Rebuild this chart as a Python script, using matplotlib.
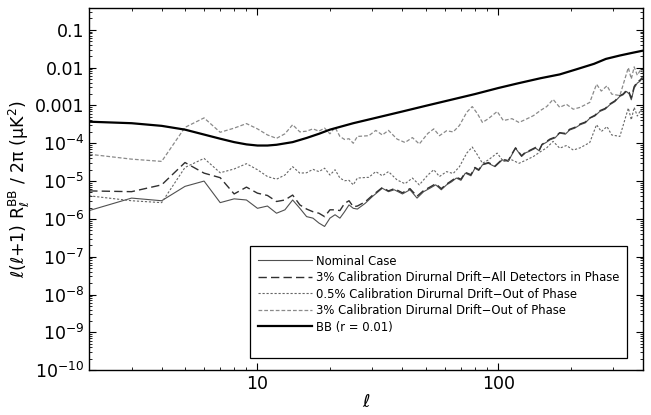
import numpy as np
import matplotlib
matplotlib.use("Agg")
import matplotlib.pyplot as plt
from matplotlib.ticker import LogLocator, FixedLocator, FuncFormatter, NullFormatter

plt.rcParams["mathtext.fontset"] = "dejavusans"
plt.rcParams["mathtext.default"] = "regular"

# log10 of l(l+1) R_l / 2pi in uK^2, read per multipole

# BB signal, r = 0.01
ell_bb = [2, 3, 4, 5, 6, 7, 8, 9, 10, 11, 12, 14, 16, 18, 20, 25, 30, 40, 50,
          60, 80, 100, 120, 150, 180, 210, 250, 280, 320, 360, 400]
log_bb = [-3.43, -3.47, -3.54, -3.64, -3.77, -3.88, -3.97, -4.03, -4.06, -4.06,
          -4.04, -3.97, -3.86, -3.75, -3.64, -3.47, -3.35, -3.16, -3.01,
          -2.89, -2.70, -2.54, -2.42, -2.28, -2.18, -2.05, -1.90, -1.77,
          -1.68, -1.61, -1.55]

# nominal case
ell_nom = [2, 3, 4, 5, 6, 7, 8, 9, 10, 11, 12, 13, 14, 15, 16, 17, 18, 19, 20,
           21, 22, 23, 24, 25, 26, 28, 30, 33, 35, 37, 40, 43, 46, 49, 52, 55,
           58, 61, 64, 67, 70, 73, 77, 80, 83, 86, 91, 97, 104, 110, 114, 118,
           125, 130, 134, 143, 148, 152, 158, 164, 172, 180, 190, 198, 208,
           219, 230, 240, 252, 264, 278, 291, 305, 320, 330, 341, 350, 357,
           367, 378, 388, 397]
log_nom = [-5.78, -5.45, -5.52, -5.14, -5.00, -5.57, -5.47, -5.50, -5.72, -5.66,
           -5.85, -5.76, -5.50, -5.72, -5.94, -5.98, -6.11, -6.20, -5.98, -5.89,
           -5.98, -5.81, -5.63, -5.72, -5.74, -5.59, -5.41, -5.19, -5.28, -5.23,
           -5.34, -5.23, -5.45, -5.28, -5.19, -5.10, -5.23, -5.10, -5.02, -4.92,
           -4.98, -4.79, -4.86, -4.66, -4.72, -4.57, -4.53, -4.62, -4.44, -4.48,
           -4.30, -4.13, -4.35, -4.25, -4.22, -4.13, -4.20, -4.04, -3.98, -3.91,
           -3.86, -3.73, -3.76, -3.65, -3.60, -3.51, -3.46, -3.34, -3.28, -3.16,
           -3.10, -2.98, -2.90, -2.76, -2.72, -2.63, -2.70, -2.85, -2.54, -2.41,
           -2.36, -2.28]

# 3% drift, all detectors in phase
ell_ph = [2, 3, 4, 5, 6, 7, 8, 9, 10, 11, 12, 13, 14, 15, 16, 17, 18, 19, 20,
          21, 22, 23, 24, 25, 26, 28, 30, 33, 35, 37, 40, 43, 46, 49, 52, 55,
          58, 61, 64, 67, 70, 73, 77, 80, 83, 86, 91, 97, 104, 110, 114, 118,
          125, 130, 134, 143, 148, 152, 158, 164, 172, 180, 190, 198, 208,
          219, 230, 240, 252, 264, 278, 291, 305, 320, 330, 341, 350, 357,
          367, 378, 388, 397]
log_ph = [-5.26, -5.28, -5.10, -4.51, -4.79, -4.91, -5.34, -5.16, -5.32, -5.38,
          -5.54, -5.50, -5.37, -5.63, -5.74, -5.81, -5.85, -5.94, -5.76, -5.76,
          -5.78, -5.59, -5.52, -5.68, -5.66, -5.55, -5.38, -5.17, -5.26, -5.20,
          -5.31, -5.20, -5.40, -5.25, -5.16, -5.07, -5.20, -5.08, -4.99, -4.90,
          -4.95, -4.77, -4.83, -4.64, -4.70, -4.56, -4.51, -4.60, -4.42, -4.46,
          -4.28, -4.12, -4.33, -4.23, -4.20, -4.11, -4.18, -4.03, -3.96, -3.89,
          -3.84, -3.72, -3.74, -3.63, -3.58, -3.49, -3.44, -3.33, -3.26, -3.14,
          -3.08, -2.96, -2.88, -2.74, -2.70, -2.60, -2.66, -2.80, -2.50, -2.38,
          -2.33, -2.26]

# 0.5% drift, out of phase
ell_lo = [2, 3, 4, 5, 6, 7, 8, 9, 10, 11, 12, 13, 14, 15, 16, 17, 18, 19, 20,
          21, 22, 23, 24, 25, 26, 29, 31, 33, 35, 38, 41, 44, 47, 51, 54, 57,
          61, 65, 69, 74, 78, 82, 86, 91, 99, 105, 114, 122, 131, 140, 150,
          159, 169, 180, 192, 205, 219, 240, 256, 268, 283, 296, 320, 347,
          357, 367, 378, 391, 400]
log_lo = [-5.39, -5.52, -5.57, -4.64, -4.40, -4.78, -4.68, -4.54, -4.70, -4.88,
          -4.95, -4.84, -4.62, -4.79, -4.78, -4.69, -4.75, -4.66, -4.84, -4.70,
          -4.92, -4.99, -4.98, -5.10, -4.92, -4.90, -4.75, -4.86, -4.75, -4.97,
          -5.07, -4.92, -5.10, -4.84, -4.70, -4.88, -4.75, -4.80, -4.62, -4.26,
          -4.10, -4.31, -4.53, -4.44, -4.26, -4.48, -4.44, -4.53, -4.44, -4.35,
          -4.22, -4.12, -3.95, -4.13, -4.06, -4.18, -4.12, -3.98, -3.51, -3.69,
          -3.56, -3.78, -3.82, -3.07, -3.38, -3.05, -3.28, -3.12, -3.25]

# 3% drift, out of phase
ell_hi = [2, 3, 4, 5, 6, 7, 8, 9, 10, 11, 12, 13, 14, 15, 16, 17, 18, 19, 20,
          21, 22, 23, 24, 25, 26, 29, 31, 33, 35, 38, 41, 44, 47, 51, 54, 57,
          61, 65, 69, 74, 78, 82, 86, 91, 99, 105, 114, 122, 131, 140, 150,
          159, 169, 180, 192, 205, 219, 240, 256, 268, 283, 296, 320, 347,
          357, 367, 378, 391, 400]
log_hi = [-4.29, -4.42, -4.48, -3.58, -3.33, -3.71, -3.60, -3.48, -3.62, -3.78,
          -3.87, -3.75, -3.51, -3.70, -3.68, -3.62, -3.68, -3.60, -3.75, -3.58,
          -3.82, -3.90, -3.88, -4.00, -3.82, -3.80, -3.66, -3.78, -3.66, -3.89,
          -3.98, -3.85, -4.02, -3.74, -3.62, -3.80, -3.67, -3.70, -3.53, -3.18,
          -3.03, -3.22, -3.45, -3.35, -3.16, -3.40, -3.35, -3.45, -3.36, -3.27,
          -3.13, -3.03, -2.84, -3.05, -2.97, -3.10, -3.05, -2.92, -2.44, -2.62,
          -2.48, -2.70, -2.74, -2.00, -2.30, -1.98, -2.20, -2.05, -2.12]

labels = ["Nominal Case",
          "3% Calibration Dirurnal Drift\u2212All Detectors in Phase",
          "0.5% Calibration Dirurnal Drift\u2212Out of Phase",
          "3% Calibration Dirurnal Drift\u2212Out of Phase",
          "BB (r = 0.01)"]

y_decades = [1e-10, 1e-9, 1e-8, 1e-7, 1e-6, 1e-5, 1e-4, 1e-3, 1e-2, 1e-1]

fig = plt.figure(figsize=(6.51, 4.15), dpi=100)
ax = fig.add_axes([0.137, 0.108, 0.851, 0.872])

ax.plot(ell_nom, 10 ** np.array(log_nom), color="#505050", lw=0.8,
        label=labels[0])
ax.plot(ell_ph, 10 ** np.array(log_ph), color="#303030", lw=1.0,
        ls=(0, (6, 3)), label=labels[1])
ax.plot(ell_lo, 10 ** np.array(log_lo), color="#666666", lw=0.8,
        ls=(0, (2, 1.6)), label=labels[2])
ax.plot(ell_hi, 10 ** np.array(log_hi), color="#8a8a8a", lw=0.9,
        ls=(0, (3, 1.6)), label=labels[3])
ax.plot(ell_bb, 10 ** np.array(log_bb), color="black", lw=1.6,
        label=labels[4])
# spare row keeps the legend box a little taller at the bottom
ax.plot([], [], color="none", label=" ")

ax.set_xscale("log")
ax.set_yscale("log")
ax.set_xlim(2, 400)
ax.set_ylim(1e-10, 0.37)

ax.xaxis.set_major_locator(FixedLocator([10, 100]))
ax.xaxis.set_minor_locator(LogLocator(base=10, subs=range(2, 10), numticks=10))
ax.xaxis.set_major_formatter(FuncFormatter(lambda v, p: "%d" % round(v)))
ax.xaxis.set_minor_formatter(NullFormatter())

ax.yaxis.set_major_locator(FixedLocator(y_decades))
ax.yaxis.set_minor_locator(LogLocator(base=10, subs=range(2, 10), numticks=20))


def ylab(v, pos):
    e = int(round(np.log10(v)))
    if e >= -3:
        return "%g" % v
    return "10$^{%d}$" % e


ax.yaxis.set_major_formatter(FuncFormatter(ylab))
ax.yaxis.set_minor_formatter(NullFormatter())

ax.tick_params(which="both", direction="in", top=True, right=True,
               labelsize=12.5, colors="black")
ax.tick_params(which="major", length=5, width=0.8)
ax.tick_params(which="minor", length=2.5, width=0.6)
for s in ax.spines.values():
    s.set_linewidth(1.0)

ax.set_xlabel(r"$\ell$", fontsize=13, labelpad=0)
ax.set_ylabel(r"$\ell(\ell$+1) R$_\ell^{\rm BB}$ / 2π (μK$^2$)",
              fontsize=12.5, labelpad=2)

leg = ax.legend(loc="lower right", bbox_to_anchor=(0.971, 0.033), fontsize=8.4,
                handlelength=4.6, handletextpad=0.3, labelspacing=0.3,
                borderpad=0.7, borderaxespad=0, fancybox=False, framealpha=1,
                edgecolor="black")
leg.get_frame().set_linewidth(0.9)

fig.savefig("out.png", dpi=100)
